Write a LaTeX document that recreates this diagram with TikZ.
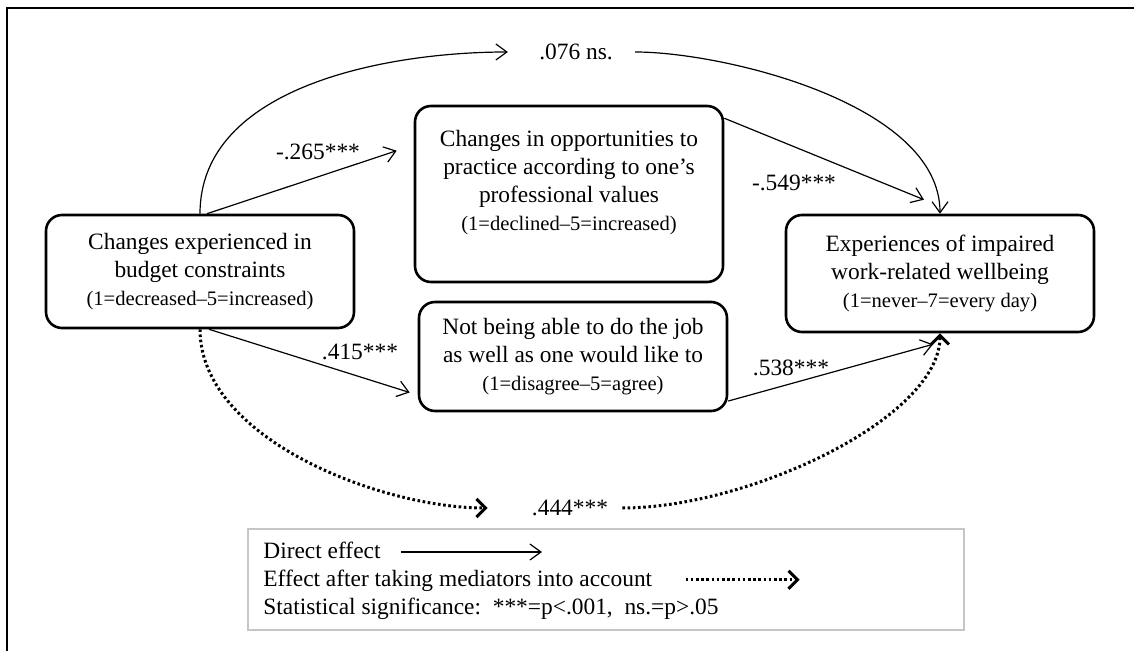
\documentclass[tikz,border=0pt]{standalone}
\usepackage{fontspec}
\setmainfont{Liberation Serif}
\usetikzlibrary{arrows.meta, positioning}

\newcommand{\boxtxt}{\fontsize{11.7}{14}\selectfont}
\newcommand{\scaletxt}{\fontsize{10.3}{12.5}\selectfont}

\begin{document}
\begin{tikzpicture}[
    x=0.5pt, y=-0.5pt,
    box/.style={rectangle, rounded corners=8pt, draw, line width=1.3pt, minimum width=154pt, align=center, font=\boxtxt, inner sep=0pt},
    coef/.style={font=\boxtxt, inner sep=0pt},
    legline/.style={font=\boxtxt, inner sep=0pt, text height=9pt, text depth=2.5pt},
    arrow/.style={-{Straight Barb[length=5.5pt,width=8pt]}, line width=0.6pt},
    dotarrow/.style={-{Straight Barb[length=4.5pt,width=9pt,line width=1.5pt]}, line width=1.5pt, dash pattern=on 1.3pt off 1.3pt}
]
    \useasboundingbox (0,0) rectangle (1134,651);
    \draw[line width=1pt] (1134,8.5) -- (6.5,8.5) -- (6.5,651);

    % variables
    \node[box, minimum height=56.5pt] (budget) at (200,271.5) {Changes experienced in\\budget constraints\\{\scaletxt(1=decreased--5=increased)}};
    \node[box, minimum height=88pt] (opp) at (569,194) {};
    \node[coef, align=center] (opptxt) at (569,183) {Changes in opportunities to\\practice according to one's\\professional values\\{\scaletxt(1=declined--5=increased)}};
    \node[box, minimum height=54.5pt] (nb) at (573,356.5) {Not being able to do the job\\as well as one would like to\\{\scaletxt(1=disagree--5=agree)}};
    \node[box, minimum height=58.5pt] (outcome) at (940,273.5) {Experiences of impaired\\work-related wellbeing\\{\scaletxt(1=never--7=every day)}};

    % coefficients
    \node[coef] (l076) at (576,52) {.076 ns.};
    \node[coef] (l265) at (318,152) {-.265***};
    \node[coef] (l549) at (794,183) {-.549***};
    \node[coef] (l415) at (360,352) {.415***};
    \node[coef] (l538) at (791,368) {.538***};
    \node[coef] (l444) at (570,508) {.444***};

    \coordinate (t265) at ([shift={(-17,46)}]opp.north west);
    \coordinate (t549) at ([shift={(-16,-14)}]outcome.north);
    \coordinate (t415) at ([shift={(-8,36)}]nb.west);
    \coordinate (t538) at ([shift={(-7,11)}]outcome.south);

    % paths
    \draw[arrow, shorten >=15.5pt] (budget.north) .. controls +(0,-128) and +(-150,0) .. (l076.west);
    \draw[arrow, shorten <=11pt] (l076.east) .. controls +(110,0) and +(0,-110) .. (outcome.north);
    \draw[arrow] ([xshift=3.5pt]budget.north) -- (t265);
    \draw[arrow] (opp.26) -- (t549);
    \draw[arrow] ([xshift=4.5pt]budget.south) -- (t415);
    \draw[arrow] (nb.-16) -- (t538);
    \draw[dotarrow, shorten >=22pt] (budget.south) .. controls +(0,110) and +(-150,0) .. (l444.west);
    \draw[dotarrow, shorten <=7pt] (l444.east) .. controls +(140,0) and +(0,85) .. (outcome.south);

    % legend
    \node[draw=gray!45, line width=0.8pt, minimum width=358pt, minimum height=50.5pt] (legend) at (606,579.5) {};
    \node[legline, anchor=west] (leg1) at (263,552) {Direct effect};
    \node[legline, below=2pt of leg1.south west, anchor=north west] (leg2) {Effect after taking mediators into account};
    \node[legline, below=2pt of leg2.south west, anchor=north west] (leg3) {Statistical significance:\ \ ***=p<.001,\ \ ns.=p>.05};
    \draw[arrow] ([xshift=10pt]leg1.east) -- ([xshift=80.5pt]leg1.east);
    \draw[dotarrow] ([xshift=16.5pt]leg2.east) -- ([xshift=73.5pt]leg2.east);
\end{tikzpicture}
\end{document}
